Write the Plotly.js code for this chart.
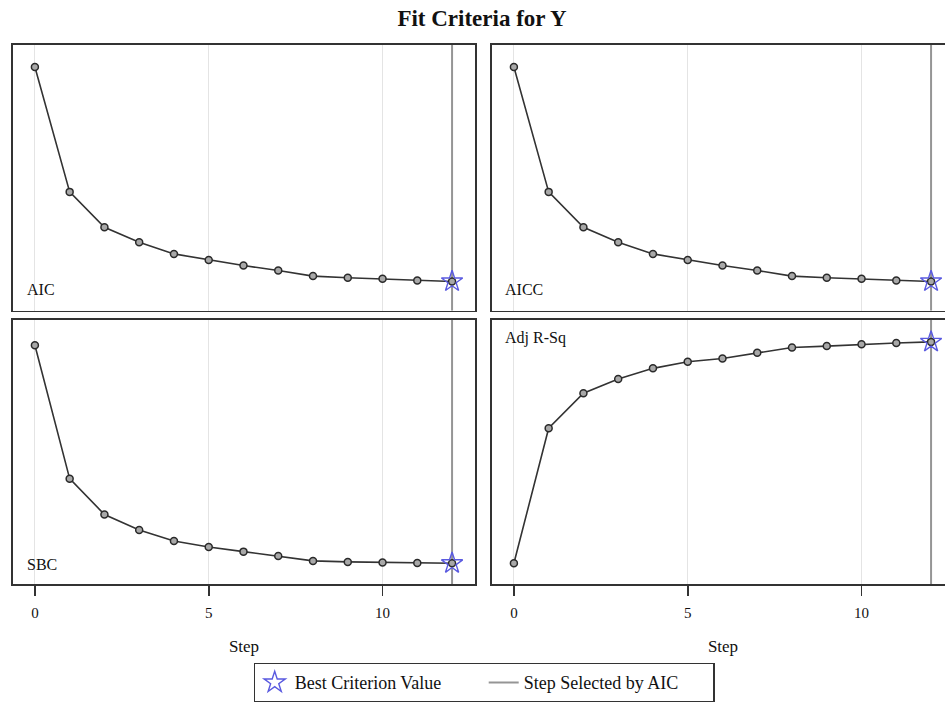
<!DOCTYPE html>
<html>
<head>
<meta charset="utf-8">
<script src="https://cdn.plot.ly/plotly-3.0.1.min.js"></script>
<style>
html, body { margin: 0; padding: 0; overflow: hidden; background: #fff; }
#chart { width: 960px; height: 702px; }
</style>
</head>
<body>
<div id="chart"></div>
<script>
// ---- data ----
const steps = [0, 1, 2, 3, 4, 5, 6, 7, 8, 9, 10, 11, 12];
const aicValues   = [244.7, 119.3, 83.7, 68.7, 57.0, 51.0, 45.3, 40.3, 34.7, 33.0, 32.0, 30.3, 29.3];
const aiccValues  = [244.7, 119.3, 83.7, 68.7, 57.0, 51.0, 45.3, 40.3, 34.7, 33.0, 32.0, 30.3, 29.3];
const sbcValues   = [240.3, 106.3, 70.3, 54.7, 43.7, 37.7, 33.0, 28.7, 23.7, 22.7, 22.0, 21.7, 21.3];
const adjRSqValues = [0.080, 0.590, 0.722, 0.776, 0.816, 0.841, 0.853, 0.875, 0.895, 0.900, 0.907, 0.912, 0.916];
const panelLabels = ["AIC", "AICC", "SBC", "Adj R-Sq"];
const selectedStep = 12;
const tickValues = [0, 5, 10];
const titleText = "Fit Criteria for Y";
const xTitle = "Step";
const legendStarName = "Best Criterion Value";
const legendLineName = "Step Selected by AIC";

// ---- build ----
const FONT = "Liberation Serif, Times New Roman, serif";
const panels = [
  { vals: aicValues,    label: panelLabels[0], best: "min", yr: [0, 267], xa: "x",  ya: "y",  lx: 0.026, ly: 0.08 },
  { vals: aiccValues,   label: panelLabels[1], best: "min", yr: [0, 267], xa: "x2", ya: "y2", lx: 0.024, ly: 0.08 },
  { vals: sbcValues,    label: panelLabels[2], best: "min", yr: [0, 266], xa: "x3", ya: "y3", lx: 0.026, ly: 0.075 },
  { vals: adjRSqValues, label: panelLabels[3], best: "max", yr: [0, 1],   xa: "x4", ya: "y4", lx: 0.024, ly: 0.929 }
];

const traces = [];
const annotations = [];
panels.forEach((p, i) => {
  traces.push({
    x: [selectedStep, selectedStep], y: p.yr,
    xaxis: p.xa, yaxis: p.ya, type: "scatter", mode: "lines",
    line: { color: "#959595", width: 2 },
    name: legendLineName, showlegend: i === 0, legendrank: 2, hoverinfo: "skip"
  });
});
panels.forEach((p) => {
  traces.push({
    x: steps, y: p.vals, xaxis: p.xa, yaxis: p.ya, type: "scatter", mode: "lines+markers",
    line: { color: "#333", width: 1.6 },
    marker: { symbol: "circle", size: 7, color: "#a8a8a8", line: { color: "#2a2a2a", width: 1.5 } },
    showlegend: false
  });
});
panels.forEach((p, i) => {
  let bi = 0;
  p.vals.forEach((v, k) => {
    if (p.best === "min" ? v < p.vals[bi] : v > p.vals[bi]) bi = k;
  });
  traces.push({
    x: [steps[bi]], y: [p.vals[bi]], xaxis: p.xa, yaxis: p.ya, type: "scatter", mode: "markers",
    marker: { symbol: "star-open", size: 16, color: "#5a5ae0", line: { color: "#5a5ae0", width: 1.4 } },
    name: legendStarName, showlegend: i === 0, legendrank: 1
  });
  annotations.push({
    text: p.label, xref: p.xa + " domain", yref: p.ya + " domain",
    x: p.lx, y: p.ly, xanchor: "left", yanchor: "middle", showarrow: false,
    font: { family: FONT, size: 16, color: "#111" }
  });
});

const W = 960, H = 702;
const xL = [13 / W, 475 / W], xR = [492 / W, 954 / W];
const yT = [(H - 312) / H, (H - 45) / H], yB = [(H - 587) / H, (H - 321) / H];
const xr = [-0.63, 12.66];

function xAxis(domain, anchor, bottom) {
  return {
    domain: domain, anchor: anchor, range: xr,
    showline: true, mirror: true, linecolor: "#333", linewidth: 1.8,
    showgrid: true, gridcolor: "#e4e4e4", gridwidth: 1, zeroline: false,
    tickmode: "array", tickvals: tickValues, ticktext: tickValues.map(String),
    ticks: bottom ? "outside" : "", ticklen: 10, tickwidth: 1.6, tickcolor: "#333",
    ticklabelstandoff: 4,
    showticklabels: bottom,
    tickfont: { family: FONT, size: 15, color: "#111" },
    title: bottom ? { text: xTitle, font: { family: FONT, size: 17, color: "#111" }, standoff: 20 } : { text: "" }
  };
}
function yAxis(domain, anchor, range) {
  return {
    domain: domain, anchor: anchor, range: range,
    showline: true, mirror: true, linecolor: "#333", linewidth: 1.8,
    showgrid: false, zeroline: false, showticklabels: false, ticks: ""
  };
}

const layout = {
  width: W, height: H,
  margin: { l: 0, r: 0, t: 0, b: 0 },
  paper_bgcolor: "#fff", plot_bgcolor: "#fff",
  title: { text: "<b>" + titleText + "</b>", x: 482 / W, xanchor: "center", y: 1 - 18 / H, yanchor: "middle",
           font: { family: FONT, size: 23, color: "#111" } },
  xaxis: xAxis(xL, "y", false),
  yaxis: yAxis(yT, "x", panels[0].yr),
  xaxis2: xAxis(xR, "y2", false),
  yaxis2: yAxis(yT, "x2", panels[1].yr),
  xaxis3: xAxis(xL, "y3", true),
  yaxis3: yAxis(yB, "x3", panels[2].yr),
  xaxis4: xAxis(xR, "y4", true),
  yaxis4: yAxis(yB, "x4", panels[3].yr),
  showlegend: true,
  legend: {
    orientation: "h", x: 484 / W, xanchor: "center", y: (H - 666) / H, yanchor: "top",
    bordercolor: "#333", borderwidth: 1.2, bgcolor: "#fff",
    font: { family: FONT, size: 18, color: "#111" }, traceorder: "normal",
    entrywidth: 184
  },
  annotations: annotations
};

Plotly.newPlot("chart", traces, layout, { displayModeBar: false, staticPlot: true });
</script>
</body>
</html>
